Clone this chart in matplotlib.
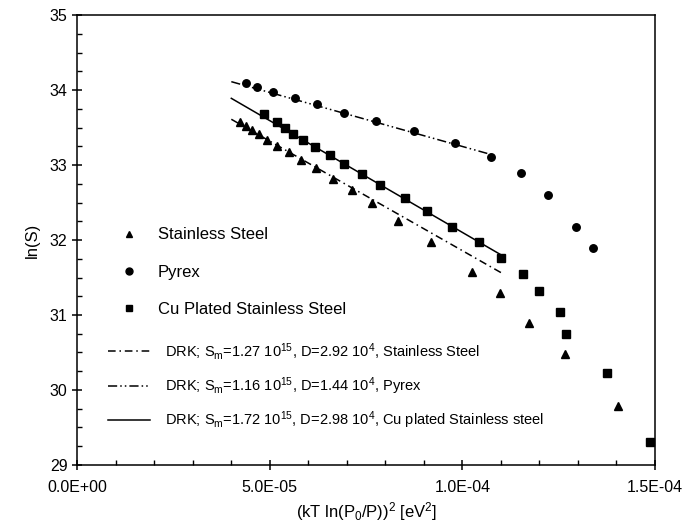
import numpy as np
import matplotlib
matplotlib.use("Agg")
import matplotlib.pyplot as plt
from matplotlib.lines import Line2D
from matplotlib.ticker import MultipleLocator, FuncFormatter

plt.rcParams['font.family'] = ['Liberation Sans', 'DejaVu Sans']
plt.rcParams['mathtext.fontset'] = 'custom'
plt.rcParams['mathtext.rm'] = 'Liberation Sans'
plt.rcParams['mathtext.it'] = 'Liberation Sans:italic'

# measured points: x = (kT ln(P0/P))^2 [eV^2], y = ln(S)
ss_x = [4.225e-5, 4.393e-5, 4.549e-5, 4.731e-5, 4.939e-5, 5.198e-5, 5.505e-5,
        5.808e-5, 6.190e-5, 6.631e-5, 7.125e-5, 7.660e-5, 8.335e-5, 9.184e-5,
        1.0248e-4, 1.0988e-4, 1.1721e-4, 1.2671e-4, 1.4032e-4]
ss_y = [33.57, 33.52, 33.47, 33.41, 33.34, 33.26, 33.17, 33.07, 32.96, 32.82,
        32.67, 32.49, 32.26, 31.97, 31.57, 31.29, 30.89, 30.48, 29.78]

py_x = [4.372e-5, 4.674e-5, 5.089e-5, 5.645e-5, 6.216e-5, 6.925e-5, 7.748e-5,
        8.742e-5, 9.815e-5, 1.0734e-4, 1.1513e-4, 1.2214e-4, 1.2949e-4, 1.3398e-4]
py_y = [34.09, 34.04, 33.97, 33.90, 33.81, 33.70, 33.59, 33.45, 33.29, 33.11,
        32.89, 32.60, 32.18, 31.90]

cu_x = [4.848e-5, 5.177e-5, 5.393e-5, 5.608e-5, 5.868e-5, 6.164e-5, 6.554e-5,
        6.933e-5, 7.400e-5, 7.873e-5, 8.522e-5, 9.080e-5, 9.737e-5, 1.0435e-4,
        1.0996e-4, 1.1573e-4, 1.1996e-4, 1.2541e-4, 1.2681e-4, 1.3761e-4, 1.4870e-4]
cu_y = [33.68, 33.57, 33.49, 33.42, 33.34, 33.24, 33.13, 33.02, 32.88, 32.73,
        32.56, 32.39, 32.18, 31.97, 31.76, 31.55, 31.32, 31.04, 30.74, 30.22, 29.30]

# DRK fits: ln S = ln Sm - D x
fit_names = ['Stainless Steel', 'Pyrex', 'Cu plated Stainless steel']
fit_Sm = [1.27e15, 1.16e15, 1.72e15]
fit_D = [2.92e4, 1.44e4, 2.98e4]
fit_xmin = [4.0e-5, 4.0e-5, 4.0e-5]
fit_xmax = [1.10e-4, 1.075e-4, 1.10e-4]

ss_dash = (0, (5, 2.5, 1, 2.5))
py_dash = (0, (6, 2, 1, 2, 1, 2))
fit_styles = [ss_dash, py_dash, '-']

fig = plt.figure(figsize=(6.93, 5.25), dpi=100)
ax = fig.add_axes([0.1115, 0.1143, 0.8336, 0.8571])

ax.plot(ss_x, ss_y, '^', color='black', ms=5.8, ls='none')
ax.plot(py_x, py_y, 'o', color='black', ms=5.4, ls='none')
ax.plot(cu_x, cu_y, 's', color='black', ms=5.2, ls='none')

for sm, d, x0, x1, st in zip(fit_Sm, fit_D, fit_xmin, fit_xmax, fit_styles):
    xx = np.array([x0, x1])
    ax.plot(xx, np.log(sm) - d * xx, color='black', lw=1.1, linestyle=st)

ax.set_xlim(0, 1.5e-4)
ax.set_ylim(29, 35)
ax.xaxis.set_major_locator(MultipleLocator(5e-5))
ax.xaxis.set_minor_locator(MultipleLocator(1e-5))
ax.yaxis.set_major_locator(MultipleLocator(1))
ax.yaxis.set_minor_locator(MultipleLocator(0.25))
ax.xaxis.set_major_formatter(FuncFormatter(lambda v, p: f"{v:.1E}"))
ax.tick_params(which='major', direction='inout', length=7, width=1.1,
               labelsize=11.5, top=False, right=False)
ax.tick_params(which='minor', direction='in', length=3.5, width=1,
               top=False, right=False)
ax.tick_params(axis='x', pad=7)
for s in ax.spines.values():
    s.set_linewidth(1.1)

ax.set_xlabel(r"(kT ln(P$_\mathregular{0}$/P))$^\mathregular{2}$ [eV$^\mathregular{2}$]",
              fontsize=12, labelpad=4)
ax.set_ylabel("ln(S)", fontsize=12, labelpad=7)

h1 = [Line2D([], [], marker='^', color='black', ls='none', ms=5),
      Line2D([], [], marker='o', color='black', ls='none', ms=5),
      Line2D([], [], marker='s', color='black', ls='none', ms=4.5)]
leg1 = ax.legend(h1, ['Stainless Steel', 'Pyrex', 'Cu Plated Stainless Steel'],
                 loc='upper left', bbox_to_anchor=(0.0756, 0.528), frameon=False,
                 fontsize=12, handlelength=1, handletextpad=1.2, labelspacing=1.34,
                 borderpad=0, borderaxespad=0)
ax.add_artist(leg1)

h2 = [Line2D([], [], color='black', lw=1.1, linestyle=st) for st in fit_styles]
lab2 = [rf"DRK; S$_\mathregular{{m}}$={sm / 1e15:.2f} 10$^\mathregular{{15}}$, "
        rf"D={d / 1e4:.2f} 10$^\mathregular{{4}}$, {n}"
        for sm, d, n in zip(fit_Sm, fit_D, fit_names)]
ax.legend(h2, lab2, loc='upper left', bbox_to_anchor=(0.053, 0.2756), frameon=False,
          fontsize=10.5, handlelength=2.9, handletextpad=1.0, labelspacing=0.9,
          borderpad=0, borderaxespad=0)

fig.savefig('out.png', dpi=100)
